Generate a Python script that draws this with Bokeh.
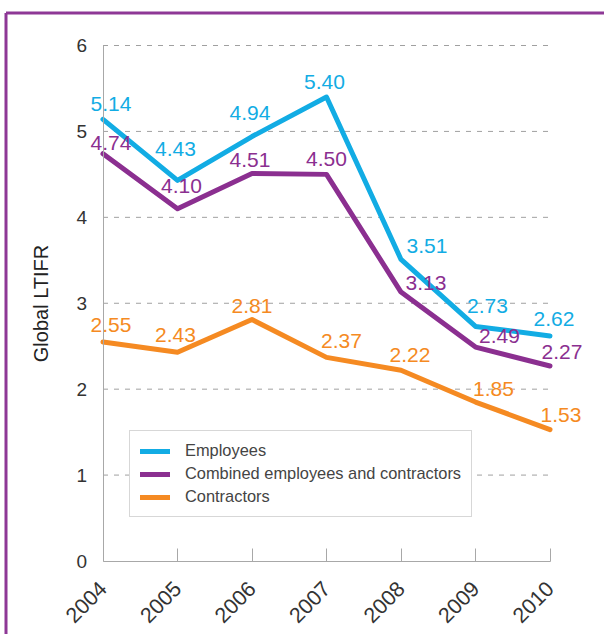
import math
from bokeh.plotting import figure
from bokeh.models import Range1d, FixedTicker
from bokeh.core.properties import value
from bokeh.embed import file_html
from bokeh.resources import INLINE

# ---- data ----
years = [2004, 2005, 2006, 2007, 2008, 2009, 2010]
employees = [5.14, 4.43, 4.94, 5.40, 3.51, 2.73, 2.62]
combined = [4.74, 4.10, 4.51, 4.50, 3.13, 2.49, 2.27]
contractors = [2.55, 2.43, 2.81, 2.37, 2.22, 1.85, 1.53]
y_ticks = [0, 1, 2, 3, 4, 5, 6]
series_names = ["Employees", "Combined employees and contractors", "Contractors"]

# ---- styling / label placement (pixels) ----
colors = ["#12ACE4", "#8B2F90", "#F58A22"]
frame_color = "#8E3896"
label_dx = [
    [8, -2, -2, -2, 26, 12, 4],
    [8, 4, -2, 0, 25, 24, 12],
    [8, -2, 0, 15, 9, 18, 11],
]
label_dy = [
    [-15, -31, -24, -15, -13, -20, -17],
    [-11, -23, -14, -15, -9, -11, -14],
    [-17, -17, -14, -16, -15, -13, -15],
]

FONT = value("Liberation Sans")
W, H = 604, 634
# pixel layout of the plotting area
px_x0, px_x1 = 102.5, 549.5      # first / last year
px_y0, px_y1 = 560.5, 45.0       # y = first / last tick
ppx = (px_x1 - px_x0) / (years[-1] - years[0])
ppy = (px_y0 - px_y1) / (y_ticks[-1] - y_ticks[0])
x_start = years[0] - px_x0 / ppx
x_end = years[0] + (W - px_x0) / ppx
y_start = y_ticks[0] - (H - px_y0) / ppy
y_end = y_ticks[-1] + px_y1 / ppy

p = figure(width=W, height=H, output_backend="svg", toolbar_location=None,
           x_range=Range1d(x_start, x_end), y_range=Range1d(y_start, y_end),
           min_border_left=0, min_border_right=0,
           min_border_top=0, min_border_bottom=0)
p.outline_line_color = None
p.background_fill_color = "white"
p.border_fill_color = "white"
p.xgrid.grid_line_color = None
p.ygrid.grid_line_color = None

# purple frame (top and left rules)
bx = years[0] - (px_x0 - 5.5) / ppx
by = y_ticks[-1] + (px_y1 - 12.5) / ppy
p.segment(x0=[bx, bx], y0=[by, by], x1=[x_end + 1, bx], y1=[by, y_start - 1],
          line_color=frame_color, line_width=3)

# dashed gridlines limited to the year span
gy = y_ticks[1:]
p.segment(x0=[years[0]] * len(gy), x1=[years[-1]] * len(gy), y0=gy, y1=gy,
          line_color="#a0a0a0", line_width=1, line_dash="5 6")

# x axis
p.xaxis.fixed_location = y_ticks[0]
p.xaxis.ticker = FixedTicker(ticks=years)
p.xaxis.bounds = (years[0], years[-1])
p.xaxis.major_tick_in = 13
p.xaxis.major_tick_out = 0
p.xaxis.minor_tick_line_color = None
p.xaxis.axis_line_color = "#a8a8a8"
p.xaxis.major_tick_line_color = "#a8a8a8"
p.xaxis.major_label_orientation = math.pi / 4
p.xaxis.major_label_text_font = "Liberation Sans"
p.xaxis.major_label_text_font_size = "21.5px"
p.xaxis.major_label_text_color = "#333333"
p.xaxis.major_label_standoff = 24

# y axis
p.yaxis.fixed_location = years[0]
p.yaxis.ticker = FixedTicker(ticks=y_ticks)
p.yaxis.bounds = (y_ticks[0], y_ticks[-1])
p.yaxis.major_tick_line_color = None
p.yaxis.minor_tick_line_color = None
p.yaxis.axis_line_color = "#a8a8a8"
p.yaxis.major_label_text_font = "Liberation Sans"
p.yaxis.major_label_text_font_size = "19px"
p.yaxis.major_label_text_color = "#333333"
p.yaxis.major_label_standoff = 10
p.yaxis.axis_label = "Global LTIFR"
p.yaxis.axis_label_text_font = "Liberation Sans"
p.yaxis.axis_label_text_font_style = "normal"
p.yaxis.axis_label_text_font_size = "20px"
p.yaxis.axis_label_text_color = "#222222"
p.yaxis.axis_label_standoff = 22

all_series = [employees, combined, contractors]
for i in [2, 1, 0]:
    vals = all_series[i]
    p.line(years, vals, line_color=colors[i], line_width=5, line_join="round",
           line_cap="round", legend_label=series_names[i])
for i in [2, 1, 0]:
    vals = all_series[i]
    p.text(x=years, y=vals, text=[f"{v:.2f}" for v in vals],
           x_offset=label_dx[i], y_offset=label_dy[i],
           text_align="center", text_baseline="middle",
           text_font=FONT, text_font_size="21px", text_color=colors[i])

# legend
lg = p.legend[0]
lg.items = list(reversed(lg.items))
lg.location = (129, H - 517)
lg.border_line_color = "#b0b0b0"
lg.border_line_width = 1
lg.background_fill_color = "white"
lg.background_fill_alpha = 1
lg.padding = 10
lg.margin = 0
lg.spacing = 4
lg.glyph_width = 30
lg.glyph_height = 18
lg.label_height = 18
lg.label_standoff = 15
lg.label_text_font = "Liberation Sans"
lg.label_text_font_size = "16.4px"
lg.label_text_color = "#444444"

open("out.html", "w").write(file_html(p, INLINE))
